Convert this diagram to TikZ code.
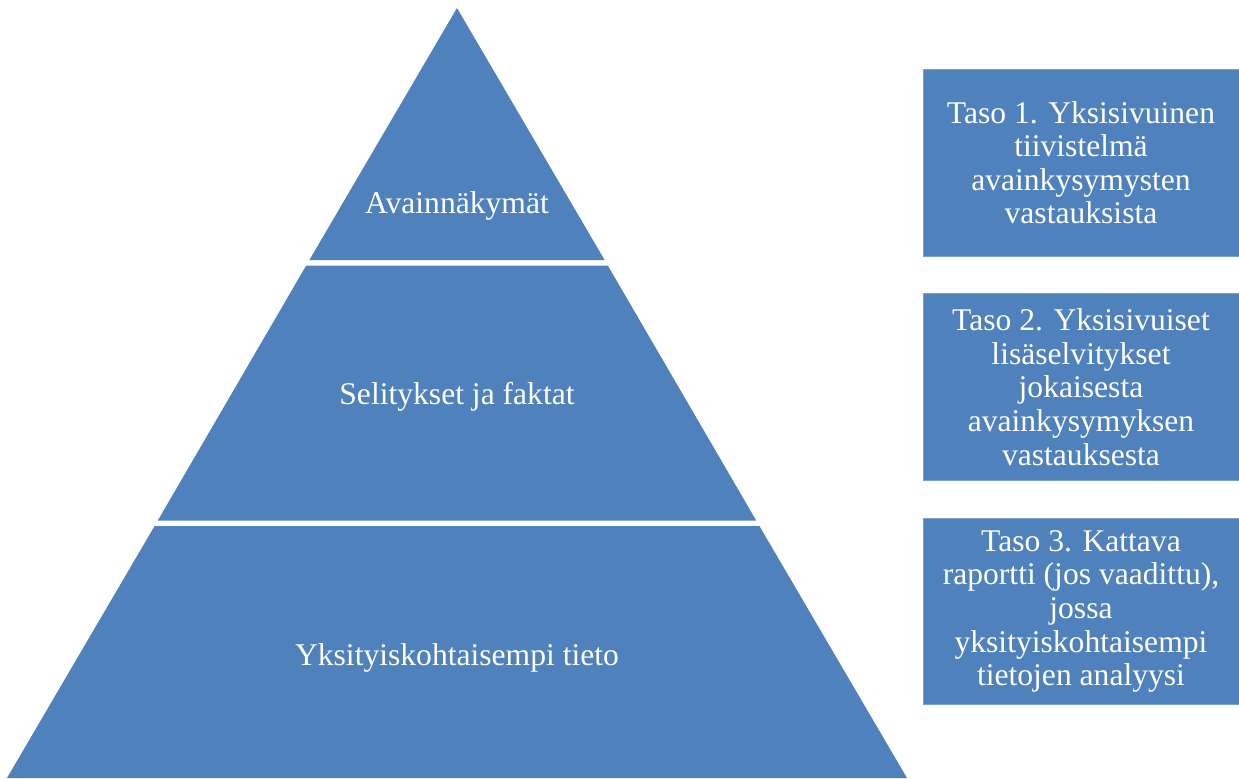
\documentclass[tikz,border=0pt]{standalone}
\usepackage{fontspec}
\setmainfont{Liberation Serif}
\definecolor{pyblue}{HTML}{4F81BD}
\begin{document}
\begin{tikzpicture}[x=0.5pt,y=-0.5pt,
  band/.style={fill=pyblue,draw=none},
  lbl/.style={text=white,font=\fontsize{15.8}{16.6}\selectfont,align=center,inner sep=0pt},
  tasobox/.style={fill=pyblue,draw=pyblue!75!white,line width=0.4pt,minimum width=158pt,minimum height=93.25pt,inner sep=0pt,text=white,font=\fontsize{15.8}{16.8}\selectfont,align=center}]
\useasboundingbox (0,0) rectangle (1239,778);
% pyramid bands
\fill[band] (457,8) -- (604.6,260) -- (309.4,260) -- cycle;
\fill[band] (306.1,265.7) -- (607.9,265.7) -- (756.2,520.5) -- (157.8,520.5) -- cycle;
\fill[band] (154.6,526) -- (759.4,526) -- (907,778) -- (7,778) -- cycle;
% labels
\node[lbl] (l1) at (457,206) {Avainnäkymät};
\node[lbl] (l2) at (457,397) {Selitykset ja faktat};
\node[lbl] (l3) at (457,658) {Yksityiskohtaisempi tieto};
% boxes
\node[tasobox] (b1) at (1081,162.75) {Taso 1. Yksisivuinen\\tiivistelmä\\avainkysymysten\\vastauksista};
\node[tasobox] (b2) at (1081,387) {Taso 2. Yksisivuiset\\lisäselvitykset\\jokaisesta\\avainkysymyksen\\vastauksesta};
\node[tasobox] (b3) at (1081,611.5) {Taso 3. Kattava\\raportti (jos vaadittu),\\jossa\\yksityiskohtaisempi\\tietojen analyysi};
\end{tikzpicture}
\end{document}
